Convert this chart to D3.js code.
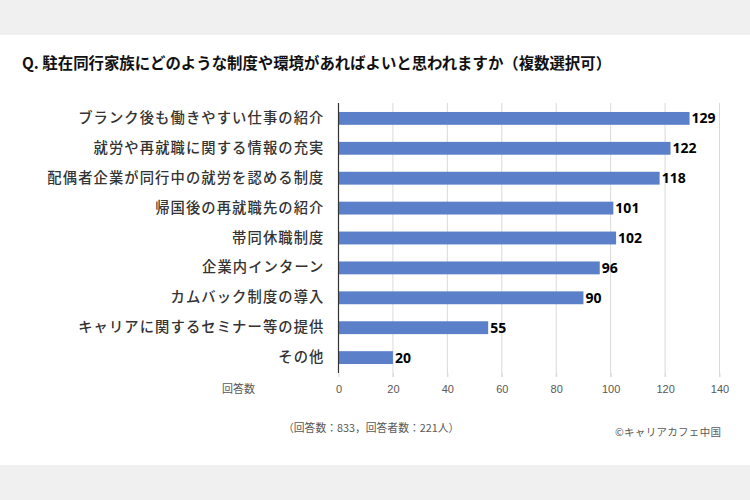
<!DOCTYPE html>
<html>
<head>
<meta charset="utf-8">
<script src="https://cdn.jsdelivr.net/npm/d3@7"></script>
<style>
  html, body { margin: 0; padding: 0; background: #ffffff; }
  svg { display: block; }
</style>
</head>
<body>
<svg id="chart" width="750" height="500"></svg>
<script>
const titleText = "Q. 駐在同行家族にどのような制度や環境があればよいと思われますか（複数選択可）";
const categories = [
  "ブランク後も働きやすい仕事の紹介",
  "就労や再就職に関する情報の充実",
  "配偶者企業が同行中の就労を認める制度",
  "帰国後の再就職先の紹介",
  "帯同休職制度",
  "企業内インターン",
  "カムバック制度の導入",
  "キャリアに関するセミナー等の提供",
  "その他"
];
const values = [129, 122, 118, 101, 102, 96, 90, 55, 20];
const tickValues = [0, 20, 40, 60, 80, 100, 120, 140];
const axisLabel = "回答数";
const footnote = "（回答数：833，回答者数：221人）";
const credit = "©キャリアカフェ中国";

const svg = d3.select("#chart");
const JP = "'Noto Sans CJK JP', 'Noto Sans', sans-serif";

// background bands
svg.append("rect").attr("x", 0).attr("y", 0).attr("width", 750).attr("height", 35).attr("fill", "#f0f0f0");
svg.append("rect").attr("x", 0).attr("y", 465).attr("width", 750).attr("height", 35).attr("fill", "#f0f0f0");

// title
svg.append("text")
  .attr("x", 22).attr("y", 69)
  .attr("font-family", JP).attr("font-size", 15.4).attr("font-weight", 700)
  .attr("fill", "#111").text(titleText);

const x = d3.scaleLinear().domain([0, 140]).range([338.5, 719.5]);
const y = d3.scaleBand().domain(categories).range([103, 373]).paddingInner(0.57).paddingOuter(0.3);

// gridlines
svg.append("g").selectAll("line").data(tickValues.filter(d => d > 0)).join("line")
  .attr("x1", d => x(d)).attr("x2", d => x(d))
  .attr("y1", 103).attr("y2", 377)
  .attr("stroke", "#d9d9d9").attr("stroke-width", 1);

// bars
svg.append("g").selectAll("rect").data(values).join("rect")
  .attr("x", x(0))
  .attr("y", (d, i) => y(categories[i]))
  .attr("width", d => x(d) - x(0))
  .attr("height", y.bandwidth())
  .attr("fill", "#5b80c9");

// value labels
svg.append("g").selectAll("text").data(values).join("text")
  .attr("x", d => x(d) + 2)
  .attr("y", (d, i) => y(categories[i]) + y.bandwidth() / 2)
  .attr("dy", "0.36em")
  .attr("font-family", "'Noto Sans', 'DejaVu Sans', sans-serif")
  .attr("font-size", 14).attr("font-weight", 700)
  .attr("fill", "#000").text(d => d);

// x axis
const xAxis = d3.axisBottom(x).tickValues(tickValues).tickSize(4).tickPadding(8);
const gx = svg.append("g").attr("transform", "translate(0,373)").call(xAxis);
gx.select(".domain").remove();
gx.selectAll(".tick line").attr("stroke", "#d9d9d9");
gx.selectAll(".tick text")
  .attr("font-family", "'Liberation Sans', 'Noto Sans', sans-serif")
  .attr("font-size", 11).attr("fill", "#595959");

// y axis (category labels + vertical line)
const yAxis = d3.axisLeft(y).tickSize(0).tickPadding(14);
const gy = svg.append("g").attr("transform", "translate(338.5,0)").call(yAxis);
gy.select(".domain").attr("stroke", "#333").attr("stroke-width", 1.2).attr("d", "M0,103V373");
gy.selectAll(".tick text")
  .attr("font-family", JP).attr("font-size", 14.3).attr("font-weight", 500)
  .attr("letter-spacing", "1.1px")
  .attr("fill", "#333");

// axis caption
svg.append("text")
  .attr("x", 222).attr("y", 393)
  .attr("font-family", JP).attr("font-size", 11).attr("fill", "#595959")
  .text(axisLabel);

// footnote
svg.append("text")
  .attr("x", 283).attr("y", 432)
  .attr("font-family", JP).attr("font-size", 10.8).attr("fill", "#595959")
  .text(footnote);

svg.append("text")
  .attr("x", 615).attr("y", 436)
  .attr("font-family", JP).attr("font-size", 10.5).attr("fill", "#595959")
  .attr("letter-spacing", "0.3px")
  .text(credit);
</script>
</body>
</html>
